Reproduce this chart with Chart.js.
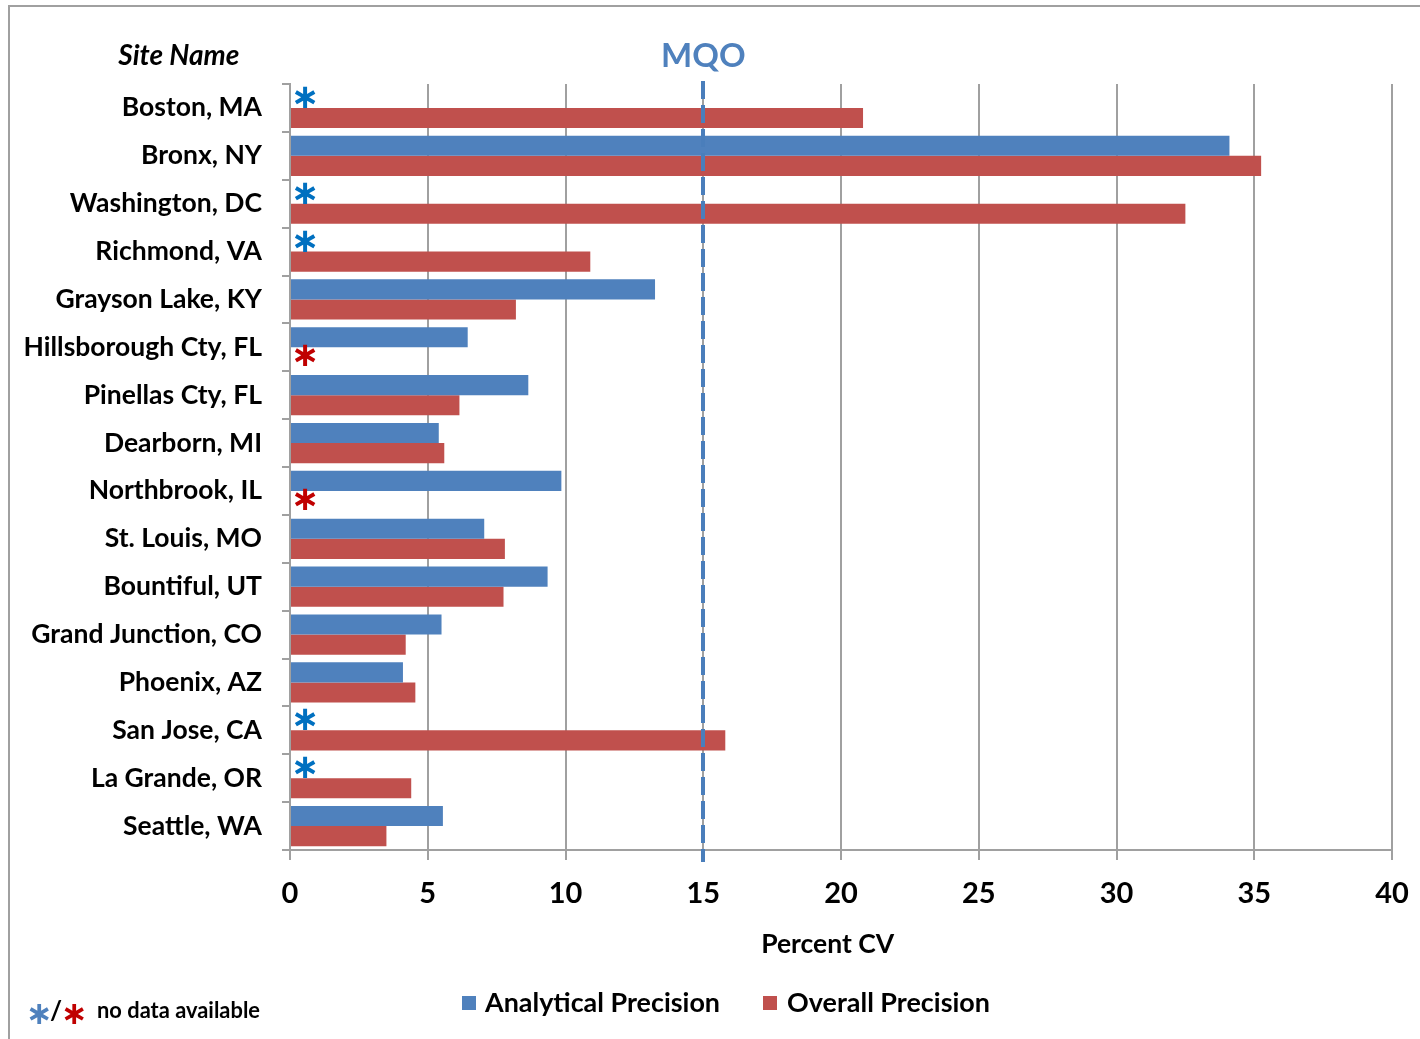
<!DOCTYPE html>
<html>
<head>
<meta charset="utf-8">
<script src="https://cdn.jsdelivr.net/npm/chart.js@4/dist/chart.umd.min.js"></script>
<style>
  html, body { margin: 0; padding: 0; background: #ffffff; }
  #wrap { width: 1420px; height: 1039px; }
</style>
</head>
<body>
<div id="wrap"><canvas id="c" width="1420" height="1039"></canvas></div>
<script>
const sites = ["Boston, MA", "Bronx, NY", "Washington, DC", "Richmond, VA", "Grayson Lake, KY",
  "Hillsborough Cty, FL", "Pinellas Cty, FL", "Dearborn, MI", "Northbrook, IL", "St. Louis, MO",
  "Bountiful, UT", "Grand Junction, CO", "Phoenix, AZ", "San Jose, CA", "La Grande, OR", "Seattle, WA"];
const analyticalPrecision = [null, 34.1, null, null, 13.25, 6.45, 8.65, 5.4, 9.85, 7.05, 9.35, 5.5, 4.1, null, null, 5.55];
const overallPrecision = [20.8, 35.25, 32.5, 10.9, 8.2, null, 6.15, 5.6, null, 7.8, 7.75, 4.2, 4.55, 15.8, 4.4, 3.5];
const xTicks = [0, 5, 10, 15, 20, 25, 30, 35, 40];
const mqoValue = 15;
const seriesNames = ["Analytical Precision", "Overall Precision"];

const BLUE = "#4f81bd";
const RED = "#c0504d";
const GRID = "#a0a0a0";
const FONT = "Lato, 'Open Sans', sans-serif";

function centerText(ctx, txt, cx, cy, maxW) {
  const m = ctx.measureText(txt);
  let w = m.actualBoundingBoxLeft + m.actualBoundingBoxRight;
  const h = m.actualBoundingBoxAscent + m.actualBoundingBoxDescent;
  ctx.textAlign = "left";
  ctx.textBaseline = "alphabetic";
  const y = cy - h / 2 + m.actualBoundingBoxAscent;
  if (maxW && m.width > maxW) {
    ctx.fillText(txt, cx - maxW / 2, y, maxW);
  } else {
    ctx.fillText(txt, cx - w / 2 + m.actualBoundingBoxLeft, y);
  }
}

const extras = {
  id: "extras",
  beforeDraw(chart) {
    const ctx = chart.ctx;
    ctx.save();
    ctx.fillStyle = "#ffffff";
    ctx.fillRect(0, 0, chart.width, chart.height);
    ctx.strokeStyle = "#a0a0a0";
    ctx.lineWidth = 2;
    ctx.strokeRect(9, 6, 2000, 2000);
    ctx.restore();
  },
  afterDraw(chart) {
    const ctx = chart.ctx;
    const xs = chart.scales.x, ys = chart.scales.y;
    const area = chart.chartArea;
    ctx.save();
    // MQO dashed line
    const mx = Math.round(xs.getPixelForValue(mqoValue));
    ctx.strokeStyle = "#4a7ebb";
    ctx.lineWidth = 4;
    ctx.setLineDash([18, 6]);
    ctx.beginPath();
    ctx.moveTo(mx, area.top - 3);
    ctx.lineTo(mx, area.bottom + 12);
    ctx.stroke();
    ctx.setLineDash([]);
    // MQO label
    ctx.fillStyle = "#4f81bd";
    ctx.font = "bold 33px " + FONT;
    centerText(ctx, "MQO", mx + 1, 57);
    // Site Name header
    ctx.fillStyle = "#000";
    ctx.font = "italic bold 28px " + FONT;
    centerText(ctx, "Site Name", 178, 54);
    // x axis title
    ctx.font = "bold 26.5px " + FONT;
    centerText(ctx, "Percent CV", 829, 943);
    // no-data asterisks
    const pitch = (ys.getPixelForValue(1) - ys.getPixelForValue(0));
    const barH = pitch * 0.84 / 2;
    ctx.font = "bold 34px 'DejaVu Sans'";
    const ax = xs.getPixelForValue(0) + 15;
    for (let i = 0; i < sites.length; i++) {
      const cy = ys.getPixelForValue(i);
      if (analyticalPrecision[i] === null) {
        ctx.fillStyle = "#0070c0";
        centerText(ctx, "∗", ax, cy - barH / 2 - 1);
      }
      if (overallPrecision[i] === null) {
        ctx.fillStyle = "#c00000";
        centerText(ctx, "∗", ax, cy + barH / 2 - 2);
      }
    }
    // legend
    ctx.textAlign = "left";
    ctx.textBaseline = "alphabetic";
    ctx.fillStyle = BLUE;
    ctx.fillRect(462, 996, 14, 14);
    ctx.fillStyle = RED;
    ctx.fillRect(763, 996, 14, 14);
    ctx.fillStyle = "#000";
    ctx.font = "bold 27.5px " + FONT;
    ctx.fillText(seriesNames[0], 485, 1012, 235);
    ctx.fillText(seriesNames[1], 787, 1012, 203);
    // footnote
    ctx.font = "bold 32px 'DejaVu Sans'";
    ctx.fillStyle = "#4f81bd";
    centerText(ctx, "∗", 39, 1013);
    ctx.fillStyle = "#c00000";
    centerText(ctx, "∗", 74, 1013);
    ctx.fillStyle = "#000";
    ctx.font = "bold 26px " + FONT;
    centerText(ctx, "/", 56, 1010);
    ctx.font = "bold 22px " + FONT;
    ctx.fillText("no data available", 97, 1018, 163);
    ctx.restore();
  }
};

new Chart(document.getElementById("c"), {
  type: "bar",
  data: {
    labels: sites,
    datasets: [
      { label: seriesNames[0], data: analyticalPrecision, backgroundColor: BLUE,
        categoryPercentage: 0.84, barPercentage: 1.0 },
      { label: seriesNames[1], data: overallPrecision, backgroundColor: RED,
        categoryPercentage: 0.84, barPercentage: 1.0 }
    ]
  },
  options: {
    indexAxis: "y",
    responsive: false,
    animation: false,
    layout: { padding: { top: 84, left: 0, right: 28, bottom: 70 } },
    plugins: { legend: { display: false }, tooltip: { enabled: false } },
    scales: {
      x: {
        min: 0, max: 40,
        afterBuildTicks(scale) { scale.ticks = xTicks.map(v => ({ value: v })); },
        afterFit(scale) {
          scale.height = 1039 - 70 - 850;
          scale.paddingLeft = 0;
          scale.paddingRight = 0;
        },
        grid: { color: GRID, lineWidth: 2, tickLength: 10, drawTicks: true },
        border: { color: GRID, width: 2 },
        ticks: { color: "#000", font: { family: FONT, size: 29, weight: "bold" }, padding: 16, maxRotation: 0 }
      },
      y: {
        afterFit(scale) { scale.width = 290; scale.paddingTop = 0; scale.paddingBottom = 0; },
        grid: { offset: true, drawOnChartArea: false, drawTicks: true, tickLength: 8, color: GRID, lineWidth: 2 },
        border: { color: GRID, width: 2 },
        ticks: { color: "#000", font: { family: FONT, size: 26.5, weight: "bold" }, padding: 20, autoSkip: false }
      }
    }
  },
  plugins: [extras]
});
</script>
</body>
</html>
